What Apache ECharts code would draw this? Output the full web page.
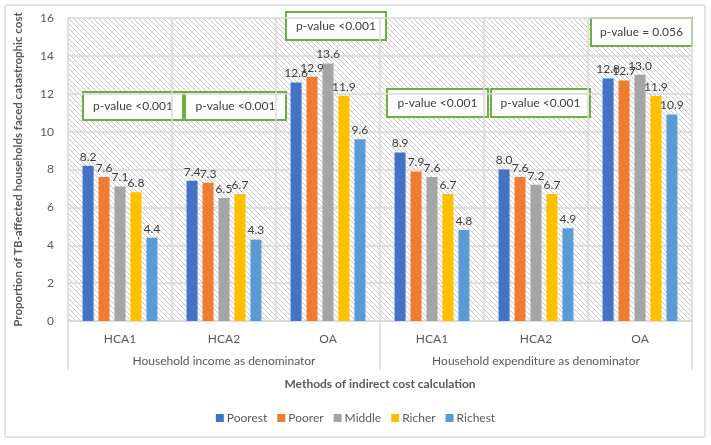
<!DOCTYPE html>
<html>
<head>
<meta charset="utf-8">
<script src="https://cdn.jsdelivr.net/npm/echarts@6/dist/echarts.min.js"></script>
<style>
  html, body { margin: 0; padding: 0; background: #fff; }
  #chart { width: 711px; height: 445px; }
</style>
</head>
<body>
<div id="chart"></div>
<script>
// ---- data ----
const methods = ["HCA1", "HCA2", "OA", "HCA1", "HCA2", "OA"];
const denominators = ["Household income as denominator", "Household expenditure as denominator"];
const groupNames = ["Poorest", "Poorer", "Middle", "Richer", "Richest"];
const poorest = [8.2, 7.4, 12.6, 8.9, 8.0, 12.8];
const poorer  = [7.6, 7.3, 12.9, 7.9, 7.6, 12.7];
const middle  = [7.1, 6.5, 13.6, 7.6, 7.2, 13.0];
const richer  = [6.8, 6.7, 11.9, 6.7, 6.7, 11.9];
const richest = [4.4, 4.3, 9.6, 4.8, 4.9, 10.9];
const pValues = ["p-value <0.001", "p-value <0.001", "p-value <0.001", "p-value <0.001", "p-value <0.001", "p-value = 0.056"];
const yTicks = { min: 0, max: 16, step: 2 };

const colors = ["#4472c4", "#ed7d31", "#a5a5a5", "#ffc000", "#5b9bd5"];
const FONT = "Lato";

// hatched background for the plot area
function makeHatch() {
  const c = document.createElement("canvas");
  const s = 5;
  c.width = s; c.height = s;
  const ctx = c.getContext("2d");
  ctx.fillStyle = "#ffffff";
  ctx.fillRect(0, 0, s, s);
  ctx.strokeStyle = "#c9c9c9";
  ctx.lineWidth = 1;
  ctx.beginPath();
  ctx.moveTo(-1, -1); ctx.lineTo(s + 1, s + 1);
  ctx.moveTo(-1, s - 1); ctx.lineTo(1, s + 1);
  ctx.moveTo(s - 1, -1); ctx.lineTo(s + 1, 1);
  ctx.stroke();
  return c;
}

const chart = echarts.init(document.getElementById("chart"));

const seriesData = [poorest, poorer, middle, richer, richest];
const series = groupNames.map((name, i) => ({
  name: name,
  type: "bar",
  data: seriesData[i],
  barGap: "45%",
  barCategoryGap: "28%",
  itemStyle: { color: colors[i] },
  label: {
    show: true,
    position: "top",
    distance: 3,
    color: "#404040",
    fontFamily: FONT,
    fontSize: 12,
    formatter: p => p.value.toFixed(1)
  }
}));

// p-value boxes (annotations)
const boxes = [
  [83, 92, 100, 28],
  [185, 92, 101, 28],
  [286, 12, 100, 28],
  [387, 89, 101, 28],
  [491, 89, 99, 28],
  [591, 18, 101, 28]
];
const graphics = [{
  type: "rect",
  shape: { x: 5, y: 5, width: 700, height: 432, r: 2 },
  style: { fill: "none", stroke: "#d9d9d9", lineWidth: 1.5 },
  silent: true
}];
boxes.forEach((b, i) => {
  graphics.push({
    type: "group",
    x: b[0], y: b[1],
    z: 100,
    children: [
      { type: "rect", shape: { x: 0, y: 0, width: b[2], height: b[3] },
        style: { fill: "#ffffff", stroke: "#70ad47", lineWidth: 2 } },
      { type: "text", x: b[2] / 2, y: b[3] / 2,
        style: { text: pValues[i], fill: "#404040", font: "12px " + FONT, align: "center", verticalAlign: "middle" } }
    ]
  });
});

chart.setOption({
  animation: false,
  textStyle: { fontFamily: FONT },
  grid: {
    left: 68, right: 19, top: 18, bottom: 124,
    show: true,
    borderWidth: 0,
    backgroundColor: { image: makeHatch(), repeat: "repeat" }
  },
  legend: {
    data: groupNames,
    bottom: 16,
    left: "center",
    itemWidth: 8,
    itemHeight: 8,
    itemGap: 10,
    icon: "rect",
    textStyle: { color: "#595959", fontSize: 12, fontFamily: FONT, padding: [0, 0, 0, -2] }
  },
  xAxis: [
    {
      type: "category",
      data: methods,
      axisLine: { lineStyle: { color: "#d9d9d9", width: 1.5 } },
      axisTick: { show: false },
      axisLabel: { color: "#595959", fontSize: 12, margin: 12, fontFamily: FONT },
      splitLine: { show: true, lineStyle: { color: "#d9d9d9", width: 1.5 } }
    },
    {
      type: "category",
      data: denominators,
      position: "bottom",
      axisLine: { show: false },
      axisTick: { show: true, length: 49, lineStyle: { color: "#d9d9d9", width: 1.5 } },
      axisLabel: { color: "#595959", fontSize: 12, margin: 34, fontFamily: FONT },
      name: "Methods of indirect cost calculation",
      nameLocation: "middle",
      nameGap: 57,
      nameTextStyle: { color: "#595959", fontSize: 12, fontWeight: "bold", fontFamily: FONT }
    }
  ],
  yAxis: {
    type: "value",
    min: yTicks.min,
    max: yTicks.max,
    interval: yTicks.step,
    axisLine: { show: false },
    axisTick: { show: false },
    axisLabel: { color: "#595959", fontSize: 12, margin: 14, fontFamily: FONT },
    splitLine: { lineStyle: { color: "#d9d9d9", width: 1.5 } },
    name: "Proportion of TB-affected households faced catastrophic cost",
    nameLocation: "middle",
    nameGap: 44,
    nameTextStyle: { color: "#595959", fontSize: 11.5, fontWeight: "bold", fontFamily: FONT }
  },
  series: series,
  graphic: graphics
});
</script>
</body>
</html>
